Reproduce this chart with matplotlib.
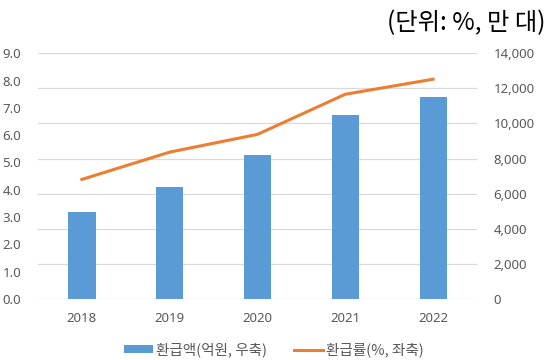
import matplotlib
matplotlib.use("Agg")
import matplotlib.pyplot as plt
from matplotlib.patches import Patch
from matplotlib.lines import Line2D

plt.rcParams['font.family'] = ['Noto Sans', 'Noto Sans CJK KR', 'DejaVu Sans']

years = ["2018", "2019", "2020", "2021", "2022"]
refund_amount = [4940, 6400, 8190, 10480, 11490]   # 억원, right axis
refund_rate = [4.38, 5.38, 6.03, 7.50, 8.05]       # %, left axis

left_ticks = [0, 1, 2, 3, 4, 5, 6, 7, 8, 9]
right_ticks = [0, 2000, 4000, 6000, 8000, 10000, 12000, 14000]

bar_color = "#5b9bd5"
line_color = "#ed7d31"
tick_color = "#595959"
grid_color = "#d9d9d9"

fig = plt.figure(figsize=(5.53, 3.6), dpi=100)
ax = fig.add_axes([0.0687, 0.1694, 0.7939, 0.6826])
ax2 = ax.twinx()

x = list(range(len(years)))

ax2.bar(x, refund_amount, width=0.31, color=bar_color, zorder=2)
ax2.set_ylim(0, 14000)
ax2.set_yticks(right_ticks)
ax2.set_yticklabels([f"{v:,}" for v in right_ticks])

ax.plot(x, refund_rate, color=line_color, linewidth=2.2, zorder=5)
ax.set_ylim(0, 9)
ax.set_yticks(left_ticks)
ax.set_yticklabels([f"{v:.1f}" for v in left_ticks])
ax.set_xlim(-0.5, len(years) - 0.5)
ax.set_xticks(x)
ax.set_xticklabels(years)

# line drawn above bars
ax.set_zorder(ax2.get_zorder() + 1)
ax.patch.set_visible(False)

for a in (ax, ax2):
    for s in a.spines.values():
        s.set_visible(False)
    a.tick_params(length=0, colors=tick_color, labelsize=9.5)

ax.tick_params(axis='y', pad=12)
ax.tick_params(axis='x', pad=9)
ax2.tick_params(axis='y', pad=12)

# gridlines on the background axis so bars cover them
ax2.grid(axis='y', color=grid_color, linewidth=0.9, zorder=0)
ax2.set_axisbelow(True)

fig.text(0.987, 0.936, "(단위: %, 만 대)", ha='right', va='center',
         fontsize=17.5, color='black', family=['Noto Sans CJK KR', 'DejaVu Sans'])

handles = [
    Patch(facecolor=bar_color, edgecolor='none'),
    Line2D([0], [0], color=line_color, linewidth=2.2),
]
labels = ["환급액(억원, 우축)", "환급률(%, 좌축)"]
leg = fig.legend(handles, labels, loc='center', bbox_to_anchor=(0.495, 0.028),
                 ncol=2, frameon=False, handlelength=2.0, handleheight=0.5,
                 handletextpad=0.15, columnspacing=1.9,
                 prop={'family': ['Noto Sans CJK KR', 'DejaVu Sans'], 'size': 10.5})
for t in leg.get_texts():
    t.set_color(tick_color)

fig.savefig("out.png", dpi=100)
